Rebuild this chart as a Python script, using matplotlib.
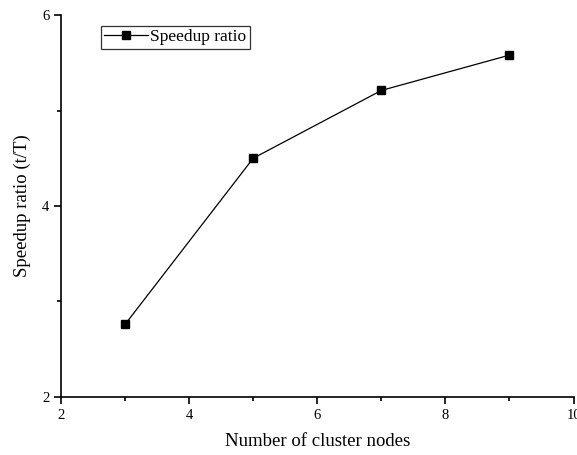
import matplotlib
matplotlib.use("Agg")
import matplotlib.pyplot as plt
from matplotlib.ticker import MultipleLocator

nodes = [3, 5, 7, 9]
speedup = [2.76, 4.50, 5.21, 5.58]
series_label = "Speedup ratio"
xlabel = "Number of cluster nodes"
ylabel = "Speedup ratio (t/T)"

plt.rcParams['font.family'] = ['Liberation Serif', 'DejaVu Serif']

fig = plt.figure(figsize=(5.77, 4.55), dpi=100)
ax = fig.add_axes([0.1057, 0.1275, 0.8883, 0.8395])
ax.plot(nodes, speedup, color='black', linewidth=0.9, marker='s',
        markersize=6, markerfacecolor='black', markeredgecolor='black',
        label=series_label)
ax.set_xlim(2, 10)
ax.set_ylim(2, 6)
ax.xaxis.set_major_locator(MultipleLocator(2))
ax.xaxis.set_minor_locator(MultipleLocator(1))
ax.yaxis.set_major_locator(MultipleLocator(2))
ax.yaxis.set_minor_locator(MultipleLocator(1))
for s in ['top', 'right']:
    ax.spines[s].set_visible(False)
for s in ['left', 'bottom']:
    ax.spines[s].set_linewidth(1.2)
ax.tick_params(which='major', direction='out', length=5, width=1.2, labelsize=10.5)
ax.tick_params(which='minor', direction='out', length=3, width=1.2)
ax.set_xlabel(xlabel, fontsize=13.5, labelpad=8)
ax.set_ylabel(ylabel, fontsize=13.5, labelpad=8)
leg = ax.legend(loc='upper left', bbox_to_anchor=(0.078, 0.972), frameon=True,
                fancybox=False, edgecolor='black', fontsize=12.5, handlelength=2.5,
                handletextpad=0.15, borderpad=0.2, borderaxespad=0)
leg.get_frame().set_linewidth(0.9)
fig.savefig("out.png", dpi=100)
